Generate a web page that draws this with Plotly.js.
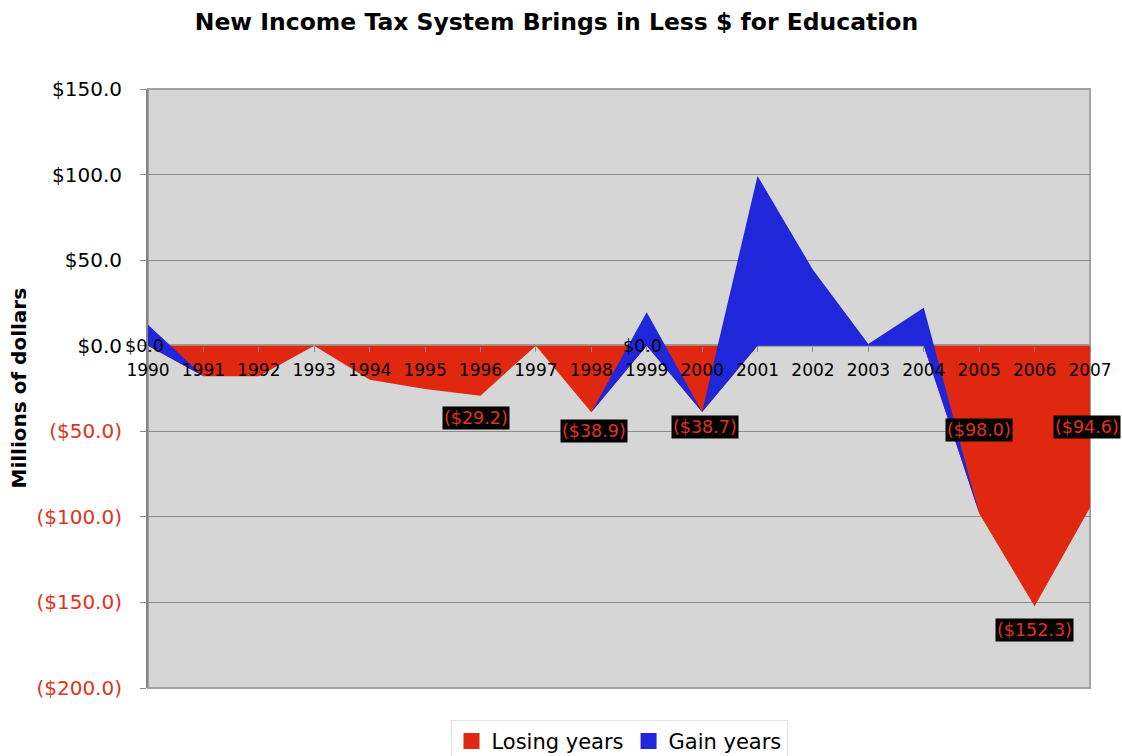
<!DOCTYPE html>
<html>
<head>
<meta charset="utf-8">
<script src="https://cdn.plot.ly/plotly-3.0.1.min.js"></script>
<style>html,body{margin:0;padding:0;background:#fff;}#chart{width:1122px;height:756px;}</style>
</head>
<body>
<div id="chart"></div>
<script>
// ---- data ----
const years = ['1990','1991','1992','1993','1994','1995','1996','1997','1998','1999','2000','2001','2002','2003','2004','2005','2006','2007'];
const losingYears = [0, -17.9, -17.9, 0, -19.9, -25.3, -29.2, 0, -38.9, 0, -38.7, 0, 0, 0, 0, -98.0, -152.3, -94.6];
const gainYears = [12.3, 0, 0, 0, 0, 0, 0, 0, 0, 19.5, 0, 99.2, 44.4, 1.0, 22.2, 0, 0, 0];
const yTickValues = [150, 100, 50, 0, -50, -100, -150, -200];
const labelYears = ['1990','1996','1998','1999','2000','2005','2006','2007'];

// ---- label placement (layout only) ----
const labelYShift = [0, -22, -19, 0, -15, 83, -24, 81];
const labelXShift = [-4, -4, 3, -4, 3, 0, 0, -3];

const RED = 'rgb(224,40,16)';
const BLUE = 'rgb(32,38,218)';
const NEG_TEXT = 'rgb(226,50,28)';
const FONT = 'DejaVu Sans, Verdana, sans-serif';

function money(v) {
  const s = '$' + Math.abs(v).toFixed(1);
  return v < 0 ? '(' + s + ')' : s;
}

const traces = [
  {
    type: 'scatter', mode: 'lines', name: 'Losing years', showlegend: false,
    x: years, y: losingYears, stackgroup: 'one',
    line: {width: 0, color: RED}, fillcolor: RED, hoverinfo: 'skip'
  },
  {
    type: 'scatter', mode: 'lines', name: 'Gain years', showlegend: false,
    x: years, y: gainYears, stackgroup: 'one',
    line: {width: 0, color: BLUE}, fillcolor: BLUE, hoverinfo: 'skip'
  },
  // legend entries (square swatches)
  {
    type: 'scatter', mode: 'markers', name: 'Losing years',
    x: [null], y: [null], marker: {symbol: 'square', size: 19, color: RED, line: {width: 0}}
  },
  {
    type: 'scatter', mode: 'markers', name: 'Gain years',
    x: [null], y: [null], marker: {symbol: 'square', size: 19, color: BLUE, line: {width: 0}}
  }
];

const annotations = labelYears.map((yr, i) => {
  const idx = years.indexOf(yr);
  const v = losingYears[idx];
  const neg = v < 0;
  return {
    x: idx, y: v, xref: 'x', yref: 'y', showarrow: false,
    xanchor: 'center', yanchor: 'middle',
    text: money(v),
    font: {family: FONT, size: 17.5, color: neg ? NEG_TEXT : '#000'},
    bgcolor: neg ? '#000' : 'rgba(0,0,0,0)',
    borderpad: 1,
    xshift: labelXShift[i], yshift: labelYShift[i]
  };
});

annotations.push({
  text: '<b>Millions of dollars</b>', xref: 'paper', yref: 'paper',
  x: 0, y: 0.5, xanchor: 'center', yanchor: 'middle', xshift: -130, textangle: -90, showarrow: false,
  font: {family: FONT, size: 20, color: '#000'}
});

const layout = {
  width: 1122, height: 756,
  margin: {l: 148, r: 32, t: 89, b: 68, autoexpand: false},
  paper_bgcolor: '#fff', plot_bgcolor: '#d6d6d6',
  font: {family: FONT, color: '#000'},
  title: {
    text: '<b>New Income Tax System Brings in Less $ for Education</b>',
    font: {family: FONT, size: 23.5, color: '#000'},
    x: 0.496, xref: 'container', xanchor: 'center',
    y: 0.971, yref: 'container', yanchor: 'middle'
  },
  xaxis: {
    type: 'category', range: [0, years.length - 1],
    anchor: 'free', position: 200 / 350,
    showline: false, showgrid: false, zeroline: false,
    ticks: 'outside', ticklen: 5, tickcolor: '#8a8a8a', tickwidth: 1,
    tickfont: {family: FONT, size: 17, color: '#000'},
    ticklabelstandoff: 4, fixedrange: true
  },
  yaxis: {
    range: [-200, 150], tickvals: yTickValues,
    ticktext: yTickValues.map(v => v < 0 ? '<span style="color:' + NEG_TEXT + '">' + money(v) + '</span>' : money(v)),
    tickfont: {family: FONT, size: 20, color: '#000'},
    ticks: 'outside', ticklen: 6, tickcolor: '#8a8a8a', tickwidth: 1,
    ticklabelstandoff: 14,
    showgrid: true, gridcolor: '#8c8c8c', gridwidth: 1,
    zeroline: true, zerolinecolor: '#9c9c9c', zerolinewidth: 3,
    showline: true, linecolor: '#858585', linewidth: 2, fixedrange: true
  },
  shapes: [
    {type: 'rect', xref: 'paper', yref: 'paper', x0: 0, x1: 1, y0: 0, y1: 1,
     line: {color: '#a2a2a2', width: 2}, layer: 'below'}
  ],
  showlegend: true,
  legend: {
    orientation: 'h', x: 0.5, xanchor: 'center', y: -0.053, yanchor: 'top',
    bgcolor: '#fff', bordercolor: '#e2e2e2', borderwidth: 1,
    font: {family: FONT, size: 21, color: '#000'},
    itemwidth: 30, itemsizing: 'trace', traceorder: 'normal'
  },
  annotations: annotations
};

Plotly.newPlot('chart', traces, layout, {displayModeBar: false, staticPlot: true});
</script>
</body>
</html>
